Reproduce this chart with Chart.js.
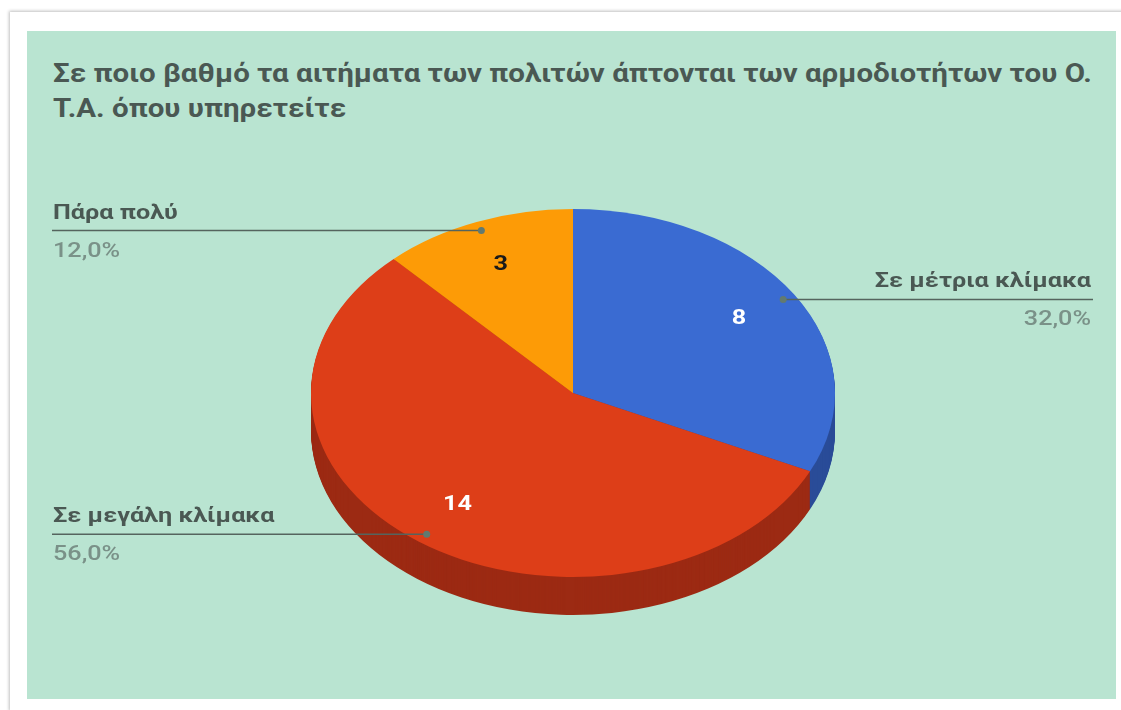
<!DOCTYPE html>
<html>
<head>
<meta charset="utf-8">
<script src="https://cdn.jsdelivr.net/npm/chart.js@4"></script>
<style>
  body { margin: 0; background: #ffffff; }
  #card { position: absolute; left: 10px; top: 12px; width: 1120px; height: 700px; background: #fff;
          box-shadow: -1px -1px 3px rgba(0,0,0,0.25); }
  #panel { position: absolute; left: 27px; top: 31px; width: 1089px; height: 668px; background: #b9e4d1; }
  #title { position: absolute; left: 53px; top: 56px; font-family: Roboto, sans-serif; font-weight: bold;
           font-size: 25px; line-height: 35px; color: #4a5853; white-space: nowrap;
           transform: scaleX(1.18); transform-origin: 0 0; }
  #mycanvas { position: absolute; left: 0; top: 0; }
</style>
</head>
<body>
<div id="card"></div>
<div id="panel"></div>
<div id="title">Σε ποιο βαθμό τα αιτήματα των πολιτών άπτονται των αρμοδιοτήτων του Ο.<br>Τ.Α. όπου υπηρετείτε</div>
<canvas id="mycanvas" width="1121" height="710"></canvas>
<script>
// data
var categories = ['Σε μέτρια κλίμακα', 'Σε μεγάλη κλίμακα', 'Πάρα πολύ'];
var counts = [8, 14, 3];

// styles
var topColors = ['#3a6bd2', '#dd3e18', '#fd9b06'];
var sideColors = ['#2a4c98', '#9c2a13', '#b06a04'];
var valueColors = ['#ffffff', '#ffffff', '#1a1a1a'];

var squash = 0.702;   // vertical squeeze of the pie (3d tilt)
var depth = 38;
var stretch = 1.2;    // text in the original is drawn a bit wide

var total = counts.reduce(function(a, b) { return a + b; }, 0);
var percents = counts.map(function(v) {
  return (v / total * 100).toFixed(1).replace('.', ',') + '%';
});

function squashed(ctx, cx, cy) {
  ctx.translate(cx, cy);
  ctx.scale(1, squash);
  ctx.translate(-cx, -cy);
}

function wideText(ctx, text, x, y) {
  ctx.save();
  ctx.translate(x, y);
  ctx.scale(stretch, 1);
  ctx.fillText(text, 0, 0);
  ctx.restore();
}

var pie3d = {
  id: 'pie3d',
  beforeDatasetsDraw: function(chart) {
    var ctx = chart.ctx;
    var arcs = chart.getDatasetMeta(0).data;
    var cx = arcs[0].x, cy = arcs[0].y;
    // side wall, stacked layers
    for (var d = depth; d >= 1; d--) {
      ctx.save();
      ctx.translate(0, d);
      squashed(ctx, cx, cy);
      arcs.forEach(function(arc, i) {
        ctx.beginPath();
        ctx.moveTo(cx, cy);
        ctx.arc(cx, cy, arc.outerRadius, arc.startAngle, arc.endAngle);
        ctx.closePath();
        ctx.fillStyle = sideColors[i];
        ctx.fill();
      });
      ctx.restore();
    }
    ctx.save();
    squashed(ctx, cx, cy);
  },
  afterDatasetsDraw: function(chart) {
    var ctx = chart.ctx;
    ctx.restore();
    var arcs = chart.getDatasetMeta(0).data;
    arcs.forEach(function(arc, i) {
      var mid = (arc.startAngle + arc.endAngle) / 2;
      var r = arc.outerRadius;
      // value inside slice
      var vx = arc.x + Math.cos(mid) * r * 0.75;
      var vy = arc.y + Math.sin(mid) * r * 0.75 * squash;
      ctx.font = 'bold 21px Roboto';
      ctx.fillStyle = valueColors[i];
      ctx.textAlign = 'center';
      ctx.textBaseline = 'middle';
      wideText(ctx, counts[i], vx, vy);

      // leader line and label
      var px = arc.x + Math.cos(mid) * r * 0.95;
      var py = arc.y + Math.sin(mid) * r * 0.95 * squash;
      var right = Math.cos(mid) > 0;
      var edge = right ? 1093 : 52;
      ctx.strokeStyle = '#55645e';
      ctx.lineWidth = 1.5;
      ctx.beginPath();
      ctx.moveTo(edge, py);
      ctx.lineTo(px, py);
      ctx.stroke();
      ctx.fillStyle = '#627a70';
      ctx.beginPath();
      ctx.arc(px, py, 3.5, 0, Math.PI * 2);
      ctx.fill();

      ctx.textAlign = right ? 'right' : 'left';
      ctx.textBaseline = 'alphabetic';
      var tx = right ? 1091 : 53;
      ctx.font = 'bold 21px Roboto';
      ctx.fillStyle = '#4a5853';
      wideText(ctx, categories[i], tx, py - 12);
      ctx.font = '500 21px Roboto';
      ctx.fillStyle = '#7a9188';
      wideText(ctx, percents[i], tx, py + 26);
    });
  }
};

var ctx = document.getElementById('mycanvas');
var pieChart = new Chart(ctx, {
  type: 'pie',
  data: {
    labels: categories,
    datasets: [{
      data: counts,
      backgroundColor: topColors,
      borderWidth: 0,
      offset: 0,
      hoverOffset: 0,
      clip: false
    }]
  },
  options: {
    responsive: false,
    animation: false,
    rotation: 0,
    layout: { padding: { left: 311, right: 286, top: 131, bottom: 55 } },
    plugins: {
      legend: { display: false },
      tooltip: { enabled: false },
      title: { display: false }
    }
  },
  plugins: [pie3d]
});
</script>
</body>
</html>
